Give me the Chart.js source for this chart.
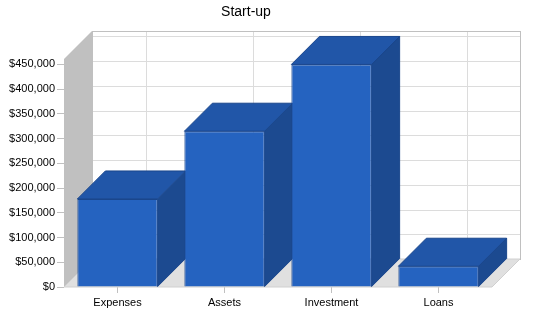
<!DOCTYPE html>
<html>
<head>
<meta charset="utf-8">
<script src="https://cdn.jsdelivr.net/npm/chart.js@4"></script>
<style>
  html, body { margin: 0; padding: 0; background: #fff; }
  #wrap { width: 550px; height: 318px; }
</style>
</head>
<body>
<div id="wrap"><canvas id="chart"></canvas></div>
<script>
const categories = ['Expenses', 'Assets', 'Investment', 'Loans'];
const amounts = [178000, 315000, 450000, 42000];
const yTickStep = 50000;
const yTickMax = 450000;
const yMax = 461000;

const depth = 28;
const frontColor = 'rgb(37,99,192)';
const topColor = 'rgb(33,86,168)';
const sideColor = 'rgb(28,74,144)';
const edgeColor = 'rgb(26,70,140)';

const shape = (ctx, pts, fill, stroke) => {
    ctx.beginPath();
    ctx.moveTo(pts[0][0], pts[0][1]);
    pts.slice(1).forEach(p => ctx.lineTo(p[0], p[1]));
    ctx.closePath();
    if (fill) { ctx.fillStyle = fill; ctx.fill(); }
    if (stroke) { ctx.strokeStyle = stroke; ctx.lineWidth = 1; ctx.stroke(); }
};

// back wall, side wall, floor and the depth faces of the bars
const box3d = {
    id: 'box3d',
    beforeDatasetsDraw(chart) {
        const { ctx, chartArea: a, scales: { x, y } } = chart;
        ctx.save();
        ctx.fillStyle = '#fff';
        ctx.fillRect(a.left + depth, a.top - depth, a.right - a.left, a.bottom - a.top);

        ctx.strokeStyle = '#dcdcdc';
        ctx.lineWidth = 1;
        y.ticks.forEach(t => {
            const py = Math.round(y.getPixelForValue(t.value) - depth) + 0.5;
            ctx.beginPath();
            ctx.moveTo(a.left + depth, py);
            ctx.lineTo(a.right + depth, py);
            ctx.stroke();
        });
        categories.forEach((c, i) => {
            const px = Math.round(x.getPixelForValue(i) + depth) + 0.5;
            ctx.beginPath();
            ctx.moveTo(px, a.top - depth);
            ctx.lineTo(px, a.bottom - depth);
            ctx.stroke();
        });
        ctx.strokeStyle = '#c0c0c0';
        ctx.strokeRect(a.left + depth + 0.5, a.top - depth + 0.5, a.right - a.left, a.bottom - a.top);

        shape(ctx, [[a.left, a.top], [a.left + depth, a.top - depth], [a.left + depth, a.bottom - depth], [a.left, a.bottom]], '#c0c0c0');
        shape(ctx, [[a.left, a.bottom], [a.left + depth, a.bottom - depth], [a.right + depth, a.bottom - depth], [a.right, a.bottom]], '#e0e0e0', '#d0d0d0');

        chart.getDatasetMeta(0).data.forEach(bar => {
            const p = bar.getProps(['x', 'y', 'base', 'width'], true);
            const l = p.x - p.width / 2, r = p.x + p.width / 2;
            shape(ctx, [[r, p.y], [r + depth, p.y - depth], [r + depth, p.base - depth], [r, p.base]], sideColor, edgeColor);
            shape(ctx, [[l, p.y], [l + depth, p.y - depth], [r + depth, p.y - depth], [r, p.y]], topColor, edgeColor);
        });
        ctx.restore();
    }
};

Chart.defaults.font.family = '"Liberation Sans", Arial, sans-serif';
Chart.defaults.color = '#000';

new Chart(document.getElementById('chart'), {
    type: 'bar',
    data: {
        labels: categories,
        datasets: [{
            data: amounts,
            backgroundColor: frontColor,
            borderColor: edgeColor,
            borderWidth: 1,
            barPercentage: 0.75,
            categoryPercentage: 1.0
        }]
    },
    options: {
        responsive: true,
        maintainAspectRatio: false,
        animation: false,
        layout: { padding: { left: 0, right: 58, top: 0, bottom: 0 } },
        plugins: {
            legend: { display: false },
            tooltip: { enabled: false },
            title: {
                display: true,
                text: 'Start-up',
                font: { size: 14, weight: 'normal' },
                color: '#000',
                padding: { top: 4, bottom: 38.2 }
            }
        },
        scales: {
            x: {
                grid: { display: true, drawOnChartArea: false, offset: false, tickLength: 6, color: '#c0c0c0' },
                border: { display: false },
                ticks: { font: { size: 11 }, padding: 3 },
                afterFit(scale) { scale.height = 31; }
            },
            y: {
                min: 0,
                max: yTickMax,
                grid: { display: true, drawOnChartArea: false, tickLength: 7, color: '#c0c0c0' },
                border: { display: false },
                ticks: {
                    stepSize: yTickStep,
                    autoSkip: false,
                    font: { size: 11 },
                    padding: 2,
                    callback: v => '$' + v.toLocaleString('en-US')
                },
                // leave a little headroom above the last tick
                afterBuildTicks(scale) { scale.max = yMax; },
                afterFit(scale) { scale.width = 64; }
            }
        }
    },
    plugins: [box3d]
});
</script>
</body>
</html>
